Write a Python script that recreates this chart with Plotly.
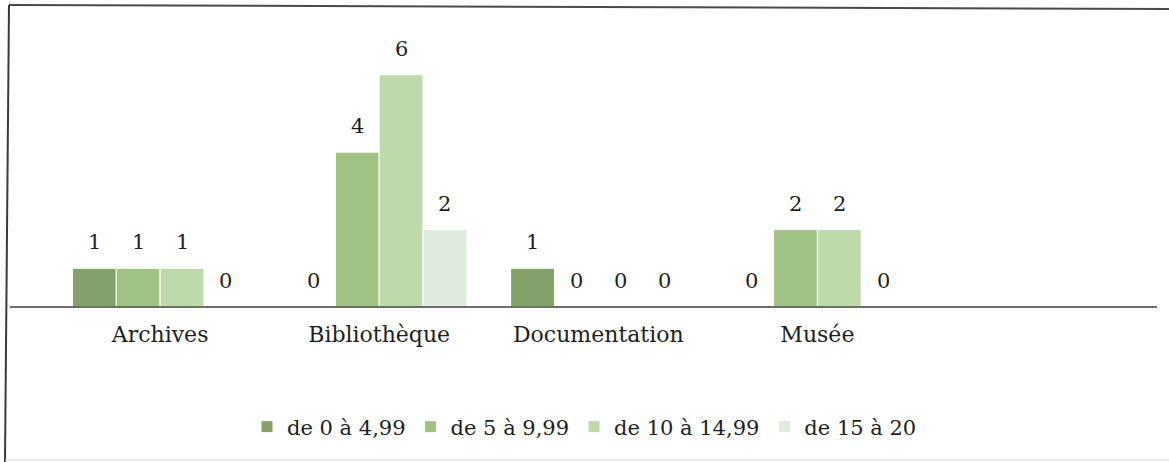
import plotly.graph_objects as go

categories = ["Archives", "Bibliothèque", "Documentation", "Musée"]
series_names = ["de 0 à 4,99", "de 5 à 9,99", "de 10 à 14,99", "de 15 à 20"]
values = [
    [1, 0, 1, 0],
    [1, 4, 0, 2],
    [1, 6, 0, 2],
    [0, 2, 0, 0],
]
colors = ["#82a26a", "#a0c383", "#bedaab", "#dfebdd"]

W, H = 1169, 462
FONT = "DejaVu Serif"

fig = go.Figure()
xpos = list(range(len(categories)))
n = len(series_names)
bw = 0.8 / n
for i, (name, vals, col) in enumerate(zip(series_names, values, colors)):
    fig.add_trace(go.Bar(
        x=xpos, y=vals, name=name,
        marker=dict(color=col, line=dict(color="white", width=1)),
        hoverinfo="skip",
    ))
    off = -0.4 + bw * (i + 0.5)
    for xp, v in zip(xpos, vals):
        fig.add_annotation(x=xp + off, y=v, text=str(v), showarrow=False,
                           xref="x", yref="y", yshift=26,
                           font=dict(family=FONT, size=21, color="#1e1e1e"))

x0px, x1px = 10, 1157
base_px = 307
top_px = 36
fig.update_layout(
    width=W, height=H,
    margin=dict(l=0, r=0, t=0, b=0),
    paper_bgcolor="white", plot_bgcolor="white",
    barmode="group", bargap=0.2, bargroupgap=0,
    font=dict(family=FONT, size=18, color="#1e1e1e"),
    showlegend=True,
    legend=dict(orientation="h", x=0.5, xanchor="center",
                y=(H - 427) / H, yanchor="middle",
                font=dict(family=FONT, size=21, color="#1e1e1e"),
                itemwidth=30, tracegroupgap=0),
    xaxis=dict(
        domain=[x0px / W, x1px / W],
        range=[-0.685, 4.55],
        tickmode="array", tickvals=xpos, ticktext=categories,
        showgrid=False, zeroline=False,
        showline=False, ticks="", ticklabelstandoff=12,
        tickfont=dict(family=FONT, size=22, color="#1e1e1e"),
    ),
    yaxis=dict(
        domain=[(H - base_px) / H, (H - top_px) / H],
        range=[0, 7], visible=False,
    ),
)
# axis line
fig.add_shape(type="line", xref="paper", yref="paper",
              x0=x0px / W, x1=x1px / W,
              y0=(H - base_px) / H, y1=(H - base_px) / H,
              line=dict(color="#6e6e6e", width=2))
# scanned frame edges
fig.add_shape(type="line", xref="paper", yref="paper",
              x0=9 / W, y0=(H - 5) / H, x1=1.0, y1=(H - 9) / H,
              line=dict(color="#4a4a4a", width=2))
fig.add_shape(type="line", xref="paper", yref="paper",
              x0=9 / W, y0=(H - 5) / H, x1=5 / W, y1=0,
              line=dict(color="#3a3a3a", width=2))
fig.add_shape(type="line", xref="paper", yref="paper",
              x0=5 / W, y0=(H - 460) / H, x1=1.0, y1=(H - 460) / H,
              line=dict(color="#d8d8d8", width=1))

fig.write_html("out.html", config={"displayModeBar": False},
               post_script="document.body.style.margin='0';document.body.style.overflow='hidden';")
